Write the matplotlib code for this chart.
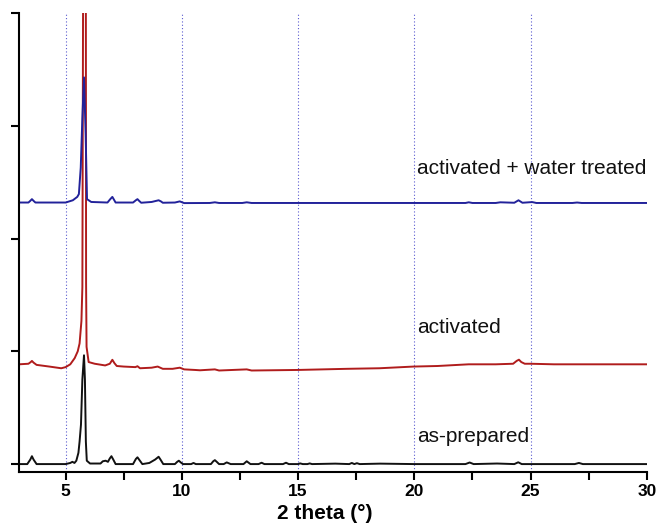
import numpy as np
import matplotlib
matplotlib.use('Agg')
import matplotlib.pyplot as plt
from matplotlib.ticker import MultipleLocator, FixedLocator, NullFormatter

plt.rcParams['font.family'] = ['Liberation Sans', 'DejaVu Sans']

# XRD traces as (2theta, offset intensity) points
black_pts = [(3.0, 0.0), (3.35, 0.0), (3.48, 0.04), (3.55, 0.07), (3.62, 0.04), (3.75, 0.0),
             (4.5, 0.0), (5.0, 0.0), (5.2, 0.01), (5.29, 0.02), (5.38, 0.01), (5.46, 0.03),
             (5.55, 0.1), (5.6, 0.2), (5.66, 0.35), (5.72, 0.75), (5.79, 0.965), (5.83, 0.75),
             (5.87, 0.2), (5.91, 0.03), (6.05, 0.005), (6.5, 0.005), (6.6, 0.025), (6.72, 0.03),
             (6.82, 0.02), (6.9, 0.05), (6.97, 0.07), (7.05, 0.04), (7.15, 0.0), (7.9, 0.0),
             (8.02, 0.045), (8.09, 0.06), (8.16, 0.04), (8.3, 0.0), (8.6, 0.01), (8.85, 0.04),
             (9.0, 0.065), (9.08, 0.04), (9.2, 0.0), (9.7, 0.0), (9.8, 0.02), (9.87, 0.03),
             (9.95, 0.015), (10.05, 0.0), (10.4, 0.0), (10.5, 0.01), (10.6, 0.0), (11.25, 0.0),
             (11.35, 0.025), (11.42, 0.035), (11.5, 0.02), (11.6, 0.0), (11.8, 0.0), (11.93, 0.015),
             (12.1, 0.0), (12.65, 0.0), (12.79, 0.025), (12.95, 0.0), (13.3, 0.0), (13.43, 0.012),
             (13.55, 0.0), (14.35, 0.0), (14.48, 0.012), (14.6, 0.0), (15.0, 0.0), (15.09, 0.006),
             (15.2, 0.0), (15.4, 0.0), (15.5, 0.006), (15.6, 0.0), (16.6, 0.004), (17.2, 0.0),
             (17.31, 0.01), (17.42, 0.0), (17.53, 0.008), (17.65, 0.0), (18.53, 0.004), (20.0, 0.0),
             (22.2, 0.0), (22.38, 0.014), (22.55, 0.0), (23.56, 0.005), (24.3, 0.0), (24.47, 0.016),
             (24.62, 0.0), (26.9, 0.0), (27.08, 0.01), (27.25, 0.0), (30.0, 0.0)]

red_pts = [(3.0, 0.885), (3.4, 0.89), (3.5, 0.905), (3.55, 0.915), (3.62, 0.9), (3.75, 0.88),
           (4.3, 0.865), (4.81, 0.85), (5.0, 0.86), (5.2, 0.885), (5.39, 0.94), (5.52, 1.0),
           (5.6, 1.07), (5.68, 1.27), (5.72, 1.57), (5.75, 4.1), (5.81, 4.8), (5.87, 4.1),
           (5.88, 1.6), (5.9, 1.04), (5.99, 0.905), (6.25, 0.89), (6.7, 0.875), (6.9, 0.89),
           (7.01, 0.925), (7.1, 0.895), (7.2, 0.87), (7.5, 0.865), (8.0, 0.86), (8.09, 0.868),
           (8.2, 0.85), (8.7, 0.855), (8.96, 0.865), (9.18, 0.845), (9.6, 0.845), (9.91, 0.855),
           (10.1, 0.84), (10.56, 0.835), (10.78, 0.832), (11.42, 0.84), (11.6, 0.83), (12.79, 0.84),
           (13.0, 0.83), (15.0, 0.835), (17.1, 0.845), (18.5, 0.85), (19.96, 0.865), (21.0, 0.87),
           (22.34, 0.885), (23.5, 0.885), (24.25, 0.89), (24.4, 0.915), (24.5, 0.926), (24.6, 0.905),
           (24.75, 0.89), (25.0, 0.89), (26.0, 0.885), (28.0, 0.885), (30.0, 0.885)]

blue_pts = [(3.0, 2.32), (3.4, 2.32), (3.48, 2.335), (3.55, 2.35), (3.62, 2.335), (3.7, 2.32),
            (4.5, 2.32), (5.0, 2.32), (5.31, 2.34), (5.5, 2.37), (5.57, 2.395), (5.65, 2.63),
            (5.72, 3.07), (5.79, 3.43), (5.86, 2.93), (5.92, 2.35), (6.1, 2.325), (6.8, 2.32),
            (6.92, 2.35), (7.01, 2.37), (7.08, 2.345), (7.15, 2.32), (7.9, 2.32), (8.02, 2.34),
            (8.09, 2.35), (8.16, 2.335), (8.25, 2.318), (8.7, 2.325), (8.9, 2.335), (9.0, 2.34),
            (9.1, 2.33), (9.18, 2.318), (9.7, 2.32), (9.91, 2.33), (10.1, 2.315), (11.2, 2.316),
            (11.42, 2.322), (11.6, 2.316), (12.6, 2.316), (12.79, 2.322), (13.0, 2.316), (22.2, 2.316),
            (22.34, 2.322), (22.5, 2.316), (23.5, 2.316), (23.7, 2.322), (24.3, 2.318), (24.48, 2.34),
            (24.65, 2.318), (25.07, 2.324), (25.25, 2.316), (26.8, 2.316), (27.0, 2.32), (27.2, 2.316),
            (30.0, 2.316)]

labels = ['as-prepared', 'activated', 'activated + water treated']
label_y = [0.2, 1.16, 2.57]
colors = ['#111111', '#b01c1c', '#22229a']
grid_x = [5, 10, 15, 20, 25]

fig = plt.figure(figsize=(6.6, 5.25), dpi=100)
ax = fig.add_axes([0.029, 0.101, 0.951, 0.874])

for x in grid_x:
    ax.axvline(x, color='#5a5ad0', lw=0.8, ls=(0, (1, 2)), zorder=0)

for pts, c in zip([black_pts, red_pts, blue_pts], colors):
    xs, ys = np.array(pts).T
    ax.plot(xs, ys, color=c, lw=1.4)

for txt, yy in zip(labels, label_y):
    ax.text(20.13, yy, txt, fontsize=15, color='#111111', ha='left', va='baseline')

ax.set_xlim(3, 30)
ax.set_ylim(-0.07, 4.0)

ax.spines['top'].set_visible(False)
ax.spines['right'].set_visible(False)
ax.spines['left'].set_linewidth(1.5)
ax.spines['bottom'].set_linewidth(1.5)

ax.xaxis.set_major_locator(MultipleLocator(5))
ax.xaxis.set_minor_locator(FixedLocator([7.5, 12.5, 17.5, 22.5, 27.5]))
ax.yaxis.set_major_locator(MultipleLocator(1))
ax.yaxis.set_major_formatter(NullFormatter())
ax.tick_params(axis='both', which='both', direction='out', width=1.5, length=6)
ax.tick_params(axis='x', labelsize=12.5, pad=3)
for lab in ax.get_xticklabels():
    lab.set_fontweight('bold')

ax.set_xlabel('2 theta (°)', fontsize=15, fontweight='bold')
ax.xaxis.set_label_coords(0.487, -0.07)

fig.savefig('out.png', dpi=100)
